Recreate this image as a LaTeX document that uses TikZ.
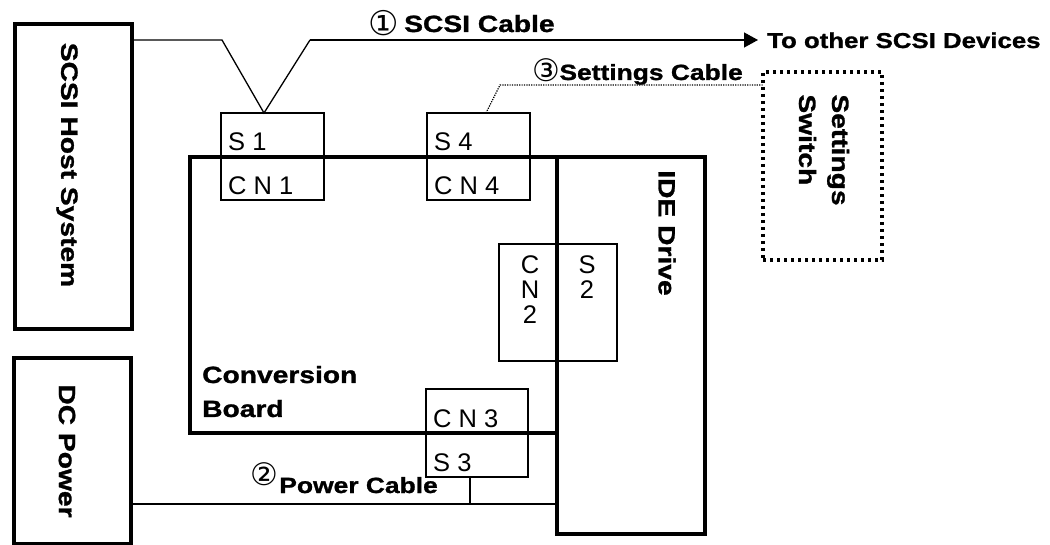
\documentclass[tikz,border=0pt]{standalone}
\usepackage{fontspec}
\setmainfont{Liberation Sans}
\newfontfamily\wb{Liberation Sans}[FakeStretch=1.2, FakeBold=1.2]
\newfontfamily\dv{DejaVu Sans}
\usetikzlibrary{arrows.meta}
\begin{document}
\begin{tikzpicture}[x=1pt,y=-1pt,
  thickbox/.style={draw, line width=3.5pt, inner sep=0pt, outer sep=0pt},
  thinbox/.style={draw, line width=1.3pt, inner sep=0pt, outer sep=0pt},
  dotbox/.style={draw, line width=3.5pt, dash pattern=on 3pt off 4pt, inner sep=0pt, outer sep=0pt},
  cable/.style={line width=1.3pt},
  dotcable/.style={line width=1.3pt, dash pattern=on 1.2pt off 1.2pt},
  lbl/.style={font=\fontsize{25.5}{26}\selectfont, anchor=base west, inner sep=0pt},
  lblc/.style={font=\fontsize{25.5}{26}\selectfont, anchor=base, inner sep=0pt},
  btxt/.style={font=\wb\bfseries\fontsize{#1}{#1}\selectfont, inner sep=0pt},
  btxt/.default=23.5,
  circ/.style={font=\dv\fontsize{#1}{#1}\selectfont, inner sep=0pt},
  circ/.default=34
]
\fill[white] (0,0) rectangle (1050,545);
\useasboundingbox (0,0) rectangle (1050,545);

% main boxes
\node[thickbox, minimum width=117pt, minimum height=305pt] (host) at (73.5,176.5) {};
\node[thickbox, minimum width=117pt, minimum height=186pt] (dc) at (72.5,451) {};
\node[thickbox, minimum width=367pt, minimum height=276pt] (board) at (373.5,295) {};
\node[thickbox, minimum width=148pt, minimum height=377pt] (ide) at (631,345.5) {};
\node[dotbox, minimum width=119pt, minimum height=188pt] (sw) at (822.5,166) {};

% connector boxes
\node[thinbox, minimum width=103pt, minimum height=87pt] (s1) at (272.5,156.5) {};
\node[thinbox, minimum width=103pt, minimum height=87pt] (s4) at (478.5,156.5) {};
\node[thinbox, minimum width=118pt, minimum height=117pt] (cn2) at (558,302.5) {};
\node[thinbox, minimum width=102pt, minimum height=88pt] (s3) at (477,433) {};

% connector labels
\node[lbl] (ts1) at (228,151) {S 1};
\node[lbl] (tcn1) at (228,195) {C N 1};
\node[lbl] (ts4) at (434,151) {S 4};
\node[lbl] (tcn4) at (434,195) {C N 4};
\node[lblc] (tc2a) at (530,274) {C};
\node[lblc] (tc2b) at (530,299) {N};
\node[lblc] (tc2c) at (530,324) {2};
\node[lblc] (ts2a) at (587,274) {S};
\node[lblc] (ts2b) at (587,299) {2};
\node[lbl] (tcn3) at (433,428) {C N 3};
\node[lbl] (ts3) at (433,471) {S 3};

% box titles
\node[btxt, rotate=-90] (thost) at (67,165) {SCSI Host System};
\node[btxt, rotate=-90] (tdc) at (67,451) {DC Power};
\node[btxt, rotate=-90] (tide) at (667,233) {IDE Drive};
\node[btxt, rotate=-90, align=left, font=\wb\bfseries\fontsize{23.5}{33}\selectfont] (tsw) at (824,150) {Settings\\Switch};
\node[btxt, anchor=base west] (tconv) at (202,383) {Conversion};
\node[btxt, anchor=base west] (tboard) at (202,417) {Board};

% SCSI cable
\node[btxt=21.5, anchor=base west] (dev) at (767,48) {To other SCSI Devices};
\coordinate (c1) at (222,40);
\coordinate (vtip) at (264,113);
\coordinate (c2) at (310,40);
\draw[cable] (host.east |- c1) -- (c1) -- (vtip) -- (c2);
\draw[cable, -{Triangle[length=14pt,width=15pt]}] (c2) -- ([xshift=-9pt]dev.west |- c2);
\node[circ=34] (n1) at (384,23) {①};
\node[btxt=23.5, anchor=base west] (tscsi) at (404,32) {SCSI Cable};

% settings cable
\coordinate (s4t) at (486,113);
\coordinate (sc1) at (500,85);
\draw[dotcable] (s4t) -- (sc1) -- (sw.west |- sc1);
\node[circ=31] (n3) at (546,70) {③};
\node[btxt=22, anchor=base east] (tset) at (743,80) {Settings Cable};

% power cable
\coordinate (pj) at (470,504);
\draw[cable] (dc.east |- pj) -- (ide.west |- pj);
\draw[cable] (s3.south -| pj) -- (pj);
\node[circ=31] (n2) at (264,474) {②};
\node[btxt=22, anchor=base east] (tpow) at (438,493) {Power Cable};
\end{tikzpicture}
\end{document}
